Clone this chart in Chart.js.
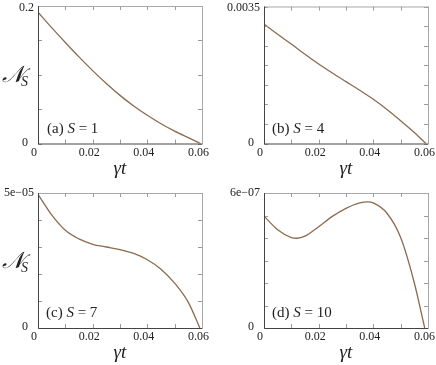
<!DOCTYPE html>
<html><head><meta charset="utf-8">
<script src="https://cdn.jsdelivr.net/npm/chart.js@4/dist/chart.umd.min.js"></script>
<style>
html,body{margin:0;padding:0;background:#fff;width:436px;height:365px;overflow:hidden}
canvas{position:absolute;left:0;top:0}
</style></head><body>
<canvas id="ca" width="436" height="365"></canvas>
<canvas id="cb" width="436" height="365"></canvas>
<canvas id="cc" width="436" height="365"></canvas>
<canvas id="cd" width="436" height="365"></canvas>
<script>
// ---- data ----
const tA = [0,0.005,0.01,0.015,0.02,0.025,0.03,0.035,0.04,0.045,0.05,0.055,0.0595];
const nA = [0.191,0.1685,0.147,0.126,0.106,0.0872,0.070,0.0546,0.041,0.0287,0.018,0.0085,0];
const tB = [0,0.005,0.01,0.015,0.02,0.025,0.03,0.035,0.04,0.045,0.05,0.055,0.0592];
const nB = [0.00305,0.00279,0.00254,0.00228,0.00203,0.00180,0.00158,0.00136,0.00113,0.00087,0.00058,0.00028,0];
const tC = [0,0.005,0.01,0.015,0.02,0.025,0.03,0.035,0.04,0.045,0.05,0.055,0.0592];
const nC = [4.95e-5,4.19e-5,3.62e-5,3.30e-5,3.10e-5,3.00e-5,2.90e-5,2.76e-5,2.53e-5,2.18e-5,1.66e-5,0.95e-5,0];
const tD = [0,0.005,0.01,0.012,0.015,0.02,0.025,0.03,0.035,0.038,0.04,0.045,0.05,0.055,0.0588];
const nD = [4.97e-7,4.37e-7,4.02e-7,3.99e-7,4.08e-7,4.50e-7,4.96e-7,5.32e-7,5.56e-7,5.61e-7,5.56e-7,5.10e-7,4.02e-7,2.0e-7,0];
const xTickLabels = ['0','0.02','0.04','0.06'];
const yTopLabels = ['0.2','0.0035','5e\u221205','6e\u221207'];
const yMaxes = [0.2,0.0035,5e-5,6e-7];
const ySteps = [0.05,0.0005,1e-5,1e-7];
const panelTags = ['(a)','(b)','(c)','(d)'];
const panelS = ['1','4','7','10'];

const SERIF = '"Liberation Serif","Times New Roman",serif';
const frame = {
  id:'frame',
  afterDraw(chart, args, o){
    const ctx = chart.ctx, xs = chart.scales.x, ys = chart.scales.y, a = chart.chartArea;
    ctx.save();
    // ticks inward on all sides
    ctx.strokeStyle = '#9a9a9a'; ctx.lineWidth = 1;
    for (let v = 0; v <= 0.06 + 1e-9; v += 0.01) {
      const px = Math.round(xs.getPixelForValue(v)) + 0.5;
      ctx.beginPath(); ctx.moveTo(px, a.bottom); ctx.lineTo(px, a.bottom - 4);
      ctx.moveTo(px, a.top); ctx.lineTo(px, a.top + 4); ctx.stroke();
    }
    for (let k = 0; k * o.yStep <= o.yMax * 1.0001; k++) {
      const py = Math.round(ys.getPixelForValue(k * o.yStep)) + 0.5;
      ctx.beginPath(); ctx.moveTo(a.left, py); ctx.lineTo(a.left + 4, py);
      ctx.moveTo(a.right, py); ctx.lineTo(a.right - 4, py); ctx.stroke();
    }
    // frame
    ctx.strokeStyle = '#a8a8a8';
    ctx.beginPath(); ctx.moveTo(a.left, a.top + 0.5); ctx.lineTo(a.right + 0.5, a.top + 0.5);
    ctx.lineTo(a.right + 0.5, a.bottom); ctx.stroke();
    ctx.strokeStyle = '#444';
    ctx.beginPath(); ctx.moveTo(a.left + 0.5, a.top); ctx.lineTo(a.left + 0.5, a.bottom + 0.5);
    ctx.lineTo(a.right + 0.5, a.bottom + 0.5); ctx.stroke();
    // tick labels
    ctx.fillStyle = '#222';
    ctx.font = '12px ' + SERIF;
    ctx.textAlign = 'center'; ctx.textBaseline = 'top';
    xTickLabels.forEach(s => {
      const v = parseFloat(s);
      const px = xs.getPixelForValue(v) - (v === 0 ? 4 : 3.5);
      ctx.fillText(s, px, a.bottom + 3);
    });
    ctx.textAlign = 'right'; ctx.textBaseline = 'middle';
    ctx.fillText(o.yTop, a.left - 4, Math.max(ys.getPixelForValue(o.yMax), 8));
    ctx.fillText('0', a.left - 10, ys.getPixelForValue(0) - 1);
    // axis title gamma t
    ctx.font = 'italic 19px ' + SERIF;
    ctx.textAlign = 'center'; ctx.textBaseline = 'middle';
    ctx.fillText('\u03b3t', (a.left + a.right) / 2, a.bottom + 25);
    // y title
    if (o.yTitle) {
      const cy = (a.top + a.bottom) / 2 + 1;
      ctx.textAlign = 'left';
      ctx.font = 'italic 23px ' + SERIF;
      ctx.fillText('\ud835\udca9', 2, cy);
      const w = ctx.measureText('\ud835\udca9').width;
      ctx.font = 'italic 14px ' + SERIF;
      ctx.fillText('S', 2 + w - 3, cy + 7);
    }
    // panel tag
    ctx.textAlign = 'left'; ctx.textBaseline = 'alphabetic';
    let x = a.left + o.tagDx, y = a.bottom - 11;
    ctx.font = '15px ' + SERIF;
    ctx.fillText(o.tag + ' ', x, y); x += ctx.measureText(o.tag + ' ').width;
    ctx.font = 'italic 15px ' + SERIF;
    ctx.fillText('S', x, y); x += ctx.measureText('S').width;
    ctx.font = '15px ' + SERIF;
    ctx.fillText(' = ' + o.s, x, y);
    ctx.restore();
  }
};

const boxes = [
  {id:'ca', l:38, r:202, t:6, b:143.5, tagDx:9, yTitle:true},
  {id:'cb', l:264, r:428, t:6.5, b:143.5, tagDx:8, yTitle:false},
  {id:'cc', l:38, r:202, t:193, b:328, tagDx:8, yTitle:true},
  {id:'cd', l:264, r:428, t:193, b:328, tagDx:8, yTitle:false}
];
const ts = [tA,tB,tC,tD], ns = [nA,nB,nC,nD];
boxes.forEach((bx, i) => {
  new Chart(document.getElementById(bx.id), {
    type:'line',
    data:{datasets:[{data: ts[i].map((t, j) => ({x:t, y:ns[i][j]})),
      borderColor:'#8b6c4e', borderWidth:1.3, pointRadius:0,
      cubicInterpolationMode:'monotone', fill:false}]},
    options:{
      responsive:false, animation:false, devicePixelRatio:1,
      layout:{padding:{left:bx.l, right:436 - bx.r, top:bx.t, bottom:365 - bx.b}},
      scales:{
        x:{type:'linear', min:0, max:0.06, display:false},
        y:{type:'linear', min:0, max:yMaxes[i], display:false}
      },
      plugins:{legend:{display:false}, tooltip:{enabled:false},
        frame:{yStep:ySteps[i], yMax:yMaxes[i], yTop:yTopLabels[i], tag:panelTags[i], s:panelS[i], tagDx:bx.tagDx, yTitle:bx.yTitle}}
    },
    plugins:[frame]
  });
});
</script>
</body></html>
